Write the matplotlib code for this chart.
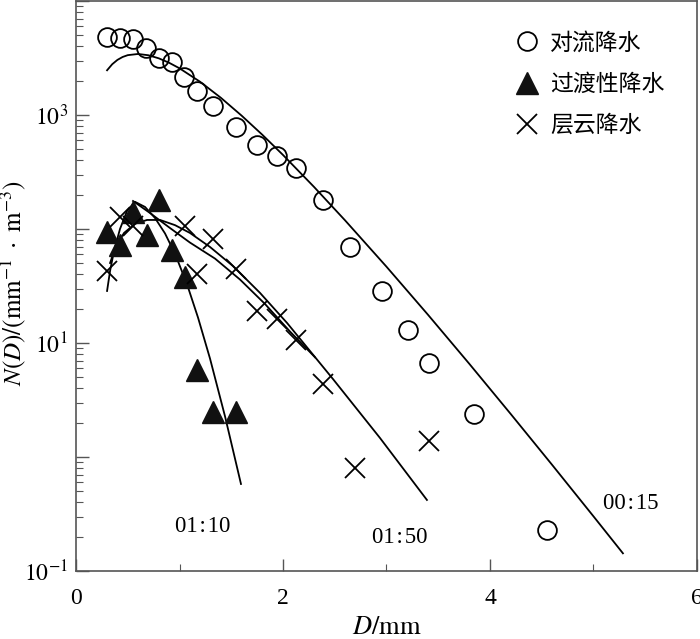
import numpy as np
import matplotlib
matplotlib.use("Agg")
import matplotlib.pyplot as plt
from matplotlib.ticker import LogLocator, FuncFormatter, MultipleLocator, NullFormatter
from matplotlib.lines import Line2D

plt.rcParams['font.family'] = ['Liberation Serif', 'Noto Sans CJK SC', 'DejaVu Sans']
plt.rcParams['mathtext.fontset'] = 'stix'

# ---- observed DSD (points) ----
conv_D = [0.30, 0.425, 0.55, 0.676, 0.80, 0.93, 1.04, 1.17, 1.32, 1.55, 1.75, 1.94, 2.13, 2.39, 2.65, 2.96, 3.21, 3.41, 3.85, 4.55]
conv_N = [4830, 4730, 4640, 3870, 3160, 2915, 2155, 1622, 1200, 785, 546, 437, 343, 180, 69.5, 28.6, 13.0, 6.68, 2.38, 0.229]

trans_D = [0.30, 0.425, 0.55, 0.686, 0.80, 0.93, 1.05, 1.17, 1.32, 1.55]
trans_N = [94.2, 72.4, 141, 88.5, 180, 65.4, 37.9, 5.8, 2.48, 2.48]

strat_D = [0.30, 0.425, 0.55, 1.05, 1.17, 1.32, 1.55, 1.75, 1.94, 2.13, 2.39, 2.70, 3.41]
strat_N = [42.9, 127, 106, 106, 40.3, 81.7, 44.6, 19.1, 16.3, 10.6, 4.36, 0.80, 1.38]

# ---- fitted curves ----
fit0015_D = [0.30, 0.35, 0.40, 0.45, 0.50, 0.60, 0.70, 0.80, 0.90, 1.0, 1.2, 1.4, 1.6, 1.8,
             2.0, 2.3, 2.6, 3.0, 3.4, 3.8, 4.2, 4.6, 5.0, 5.285]
fit0015_N = [2466, 2788, 3041, 3225, 3347, 3428, 3340, 3139, 2869, 2566, 1953, 1414, 987, 671,
             446, 233.8, 119.0, 46.7, 17.74, 6.575, 2.388, 0.855, 0.302, 0.143]

fit0110_D = [0.300, 0.329, 0.367, 0.425, 0.493, 0.570, 0.667, 0.763, 0.860, 0.957, 1.072, 1.179, 1.295, 1.440, 1.594]
fit0110_N = [28.6, 42.9, 64.2, 100, 144, 173, 156, 125, 91.4, 60.5, 32.9, 16.7, 7.29, 2.27, 0.58]

fit0150_D = [0.329, 0.386, 0.464, 0.570, 0.686, 0.812, 0.957, 1.101, 1.295, 1.517, 1.778, 2.039, 2.261, 2.483, 2.937, 3.391]
fit0150_N = [50.3, 71, 92.3, 111, 120, 120, 108, 92.3, 69.5, 47.3, 27.5, 15.0, 8.51, 4.83, 1.47, 0.42]

fitB_D = [0.551, 0.715, 0.908, 1.101, 1.343, 1.585, 1.826, 2.068, 2.309]
fitB_N = [176, 138, 102, 76, 55, 36, 22.0, 12.6, 7.5]

labels = ['对流降水', '过渡性降水', '层云降水']
curve_labels = ['01:10', '01:50', '00:15']
curve_label_pos = [(1.227, 0.248), (3.13, 0.195), (5.36, 0.394)]

fig = plt.figure(figsize=(7.0, 6.39), dpi=100)
ax = fig.add_axes([0.1086, 0.1064, 0.887, 0.8921])

lw = 1.3
ax.plot(fit0015_D, fit0015_N, color='black', lw=lw)
ax.plot(fit0110_D, fit0110_N, color='black', lw=lw)
ax.plot(fit0150_D, fit0150_N, color='black', lw=lw)
ax.plot(fitB_D, fitB_N, color='black', lw=lw)

ax.plot(conv_D, conv_N, linestyle='none', marker='o', ms=13.5, mfc='none', mec='black', mew=1.3)
ax.plot(trans_D, trans_N, linestyle='none', marker='^', ms=16.5, mfc='#111111', mec='#111111')
ax.plot(strat_D, strat_N, linestyle='none', marker='x', ms=15, mec='black', mew=1.3)

for t, (x, y) in zip(curve_labels, curve_label_pos):
    ax.text(x, y, t.replace(':', '\u200a:\u200a'), fontsize=16.5, ha='center', va='center',
            family=['Liberation Serif', 'DejaVu Sans'])

ax.set_yscale('log')
ax.set_xlim(0, 6)
ax.set_ylim(0.1, 1e4)

ax.yaxis.set_major_locator(LogLocator(base=10, numticks=20))
ax.yaxis.set_minor_locator(LogLocator(base=10, subs=np.arange(2, 10), numticks=20))
def yfmt(v, pos):
    e = int(round(np.log10(v)))
    if e in (-1, 1, 3):
        return r'$10^{%d}$' % e
    return ''
ax.yaxis.set_major_formatter(FuncFormatter(yfmt))
ax.yaxis.set_minor_formatter(NullFormatter())
ax.xaxis.set_major_locator(MultipleLocator(2))
ax.xaxis.set_minor_locator(MultipleLocator(1))
ax.xaxis.set_major_formatter(FuncFormatter(lambda v, p: '%d' % v))

ax.tick_params(which='both', direction='in', labelsize=17, color='#555555')
ax.tick_params(which='major', length=9, width=1.0)
ax.tick_params(which='minor', length=5, width=0.8)
ax.tick_params(axis='x', pad=12)
ax.tick_params(axis='y', pad=6)
for s in ax.spines.values():
    s.set_color('#555555')
    s.set_linewidth(1.2)

ax.set_xlabel(r'$D/\mathrm{mm}$', fontsize=19, labelpad=6)
ax.set_ylabel(r'$N(D)/(\mathrm{mm}^{-1}\ \cdot\ \mathrm{m}^{-3})$', fontsize=18)
ax.yaxis.set_label_coords(-0.077, 0.505)

handles = [Line2D([], [], linestyle='none', marker='o', ms=13.5, mfc='none', mec='black', mew=1.3),
           Line2D([], [], linestyle='none', marker='^', ms=16.5, mfc='#111111', mec='#111111'),
           Line2D([], [], linestyle='none', marker='x', ms=15, mec='black', mew=1.3)]
leg = ax.legend(handles, labels, loc='upper left', bbox_to_anchor=(0.689, 0.963), frameon=False,
                prop={'family': ['Noto Sans CJK SC'], 'size': 16.5}, handlelength=1.2,
                handletextpad=0.42, labelspacing=0.8, borderaxespad=0)

fig.savefig('out.png', dpi=100)
